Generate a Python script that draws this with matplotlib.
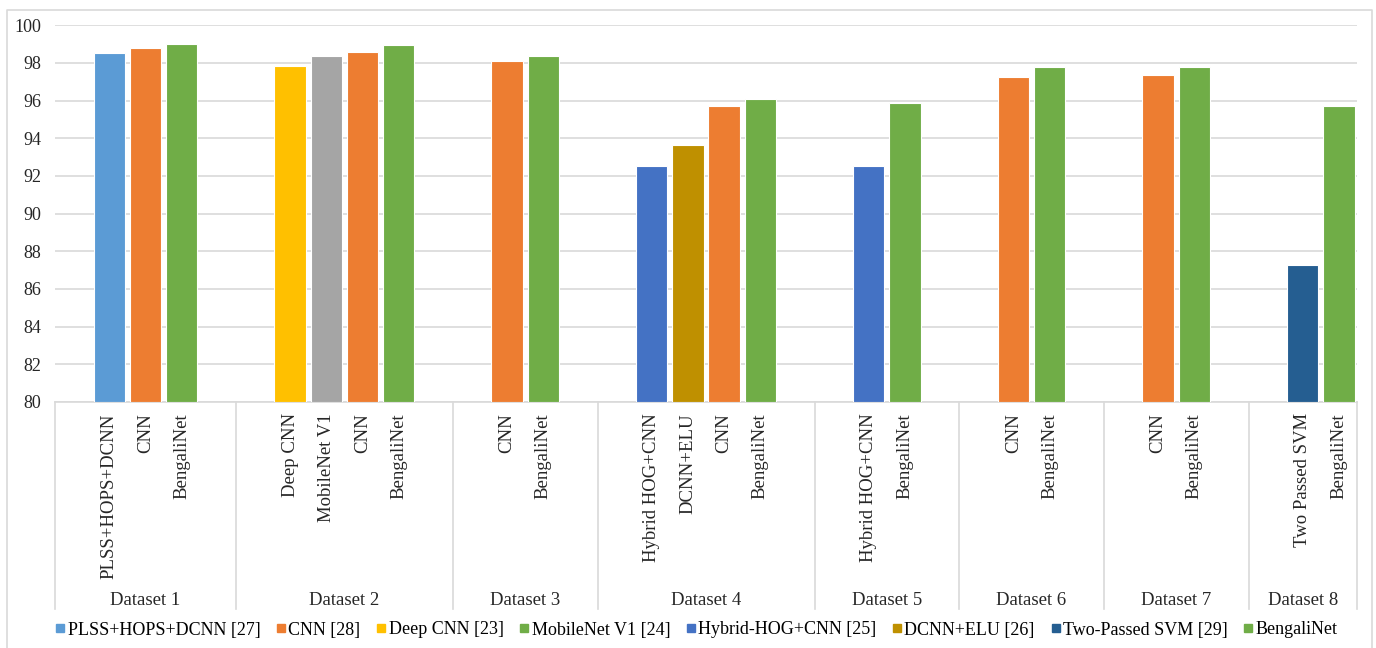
import numpy as np
import matplotlib.pyplot as plt
from matplotlib.lines import Line2D
from matplotlib.transforms import blended_transform_factory

plt.rcParams['font.family'] = ['Liberation Serif', 'DejaVu Serif']

datasets = ['Dataset 1', 'Dataset 2', 'Dataset 3', 'Dataset 4',
            'Dataset 5', 'Dataset 6', 'Dataset 7', 'Dataset 8']
methods = [
    ['PLSS+HOPS+DCNN', 'CNN', 'BengaliNet'],
    ['Deep CNN', 'MobileNet V1', 'CNN', 'BengaliNet'],
    ['CNN', 'BengaliNet'],
    ['Hybrid HOG+CNN', 'DCNN+ELU', 'CNN', 'BengaliNet'],
    ['Hybrid HOG+CNN', 'BengaliNet'],
    ['CNN', 'BengaliNet'],
    ['CNN', 'BengaliNet'],
    ['Two Passed SVM', 'BengaliNet'],
]
accuracy = [
    [98.52, 98.82, 99.02],
    [97.82, 98.35, 98.58, 98.97],
    [98.1, 98.35],
    [92.55, 93.67, 95.7, 96.07],
    [92.55, 95.85],
    [97.27, 97.8],
    [97.37, 97.8],
    [87.25, 95.7],
]
series = [
    ['PLSS+HOPS+DCNN [27]', 'CNN [28]', 'BengaliNet'],
    ['Deep CNN [23]', 'MobileNet V1 [24]', 'CNN [28]', 'BengaliNet'],
    ['CNN [28]', 'BengaliNet'],
    ['Hybrid-HOG+CNN [25]', 'DCNN+ELU [26]', 'CNN [28]', 'BengaliNet'],
    ['Hybrid-HOG+CNN [25]', 'BengaliNet'],
    ['CNN [28]', 'BengaliNet'],
    ['CNN [28]', 'BengaliNet'],
    ['Two-Passed SVM [29]', 'BengaliNet'],
]

legend_names = ['PLSS+HOPS+DCNN [27]', 'CNN [28]', 'Deep CNN [23]', 'MobileNet V1 [24]',
                'Hybrid-HOG+CNN [25]', 'DCNN+ELU [26]', 'Two-Passed SVM [29]', 'BengaliNet']
legend_colors = ['#5B9BD5', '#ED7D31', '#FFC000', '#70AD47',
                 '#4472C4', '#BF9000', '#255E91', '#70AD47']
bar_colors = {
    'PLSS+HOPS+DCNN [27]': '#5B9BD5',
    'CNN [28]': '#ED7D31',
    'Deep CNN [23]': '#FFC000',
    'MobileNet V1 [24]': '#A5A5A5',
    'Hybrid-HOG+CNN [25]': '#4472C4',
    'DCNN+ELU [26]': '#BF9000',
    'Two-Passed SVM [29]': '#255E91',
    'BengaliNet': '#70AD47',
}

W, H = 1376, 648
fig = plt.figure(figsize=(W / 100, H / 100), dpi=100)
ax = fig.add_axes([55 / W, 1 - 402 / H, (1357 - 55) / W, (402 - 25.3) / H])
trans = blended_transform_factory(ax.transData, ax.transAxes)

# each group: one empty slot, the bars, one empty slot (last group has no trailing slot)
pos = 0
bounds = [0]
centers = []
for g, names in enumerate(methods):
    pos += 1
    for j, name in enumerate(names):
        x = pos + 0.5
        ax.bar(x, accuracy[g][j] - 80, bottom=80, width=0.87,
               color=bar_colors[series[g][j]], edgecolor='white', linewidth=0.8, zorder=3)
        ax.text(x, -0.03, name, rotation=90, ha='center', va='top', fontsize=13.5,
                color='#262626', transform=trans)
        pos += 1
    if g < len(methods) - 1:
        pos += 1
    centers.append((bounds[-1] + pos) / 2)
    bounds.append(pos)

ax.set_xlim(0, bounds[-1])
ax.set_ylim(80, 100)
ax.set_yticks(np.arange(80, 101, 2))
ax.set_xticks([])
ax.tick_params(axis='y', length=0, labelsize=13, labelcolor='#262626', pad=10)
ax.yaxis.grid(True, color='#D9D9D9', linewidth=1.2, zorder=0)
ax.set_axisbelow(True)
for s in ['top', 'right', 'left']:
    ax.spines[s].set_visible(False)
ax.spines['bottom'].set_color('#D9D9D9')
ax.spines['bottom'].set_linewidth(1.2)

for b in bounds:
    ax.plot([b, b], [0, -0.55], color='#D9D9D9', linewidth=1.2,
            transform=trans, clip_on=False)
for c, name in zip(centers, datasets):
    ax.text(c, -0.526, name, ha='center', va='center', fontsize=13.5,
            color='#262626', transform=trans)

handles = [Line2D([], [], marker='s', linestyle='none', markersize=5.5,
                  markerfacecolor=c, markeredgecolor=c) for c in legend_colors]
fig.legend(handles, legend_names, loc='center', bbox_to_anchor=(0.506, 1 - 630 / H),
           ncol=8, frameon=False, fontsize=13, handletextpad=0.1,
           columnspacing=0.85, handlelength=0.6)

# light frame around the whole chart
fig.add_artist(Line2D([7 / W, 7 / W, 1372 / W, 1372 / W], [0, 1 - 10 / H, 1 - 10 / H, 0],
                      color='#D9D9D9', linewidth=1.2, transform=fig.transFigure))

fig.savefig('out.png', dpi=100)
plt.close(fig)
